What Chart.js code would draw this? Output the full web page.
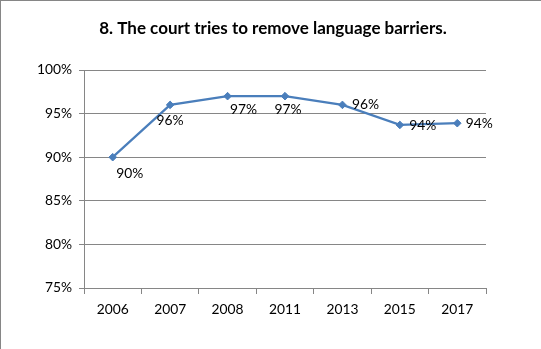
<!DOCTYPE html>
<html>
<head>
<meta charset="utf-8">
<script src="https://cdn.jsdelivr.net/npm/chart.js@4"></script>
<style>
  html, body { margin: 0; padding: 0; background: #fff; }
  #wrap { position: relative; width: 541px; height: 349px; box-sizing: border-box; border-left: 1px solid #868686; border-top: 1px solid #868686; }
  canvas { display: block; }
</style>
</head>
<body>
<div id="wrap"><canvas id="chart" width="540" height="348"></canvas></div>
<script>
const TITLE = "8. The court tries to remove language barriers.";
const YEARS = ["2006", "2007", "2008", "2011", "2013", "2015", "2017"];
const VALUES = [90, 96, 97, 97, 96, 93.7, 93.9];
const Y_MIN = 75;
const Y_MAX = 100;
const Y_STEP = 5;

const FONT = "Lato, 'Noto Sans', sans-serif";
const GRID = "#868686";
const LINE = "#4A7EBB";

// label nudges (px) relative to each point, as placed in the original
const labelNudge = [[17, 16], [0, 16], [16, 13], [3, 13], [23, 0], [23, 1], [22, 0]];

const titlePlugin = {
  id: "titleText",
  afterDraw(chart) {
    const ctx = chart.ctx;
    ctx.save();
    ctx.font = "bold 17px " + FONT;
    ctx.fillStyle = "#000";
    ctx.textAlign = "center";
    ctx.textBaseline = "middle";
    ctx.fillText(TITLE, 272, 28);
    ctx.restore();
  },
};

const valueLabels = {
  id: "valueLabels",
  afterDatasetsDraw(chart) {
    const ctx = chart.ctx;
    const meta = chart.getDatasetMeta(0);
    ctx.save();
    ctx.font = "13.8px " + FONT;
    ctx.fillStyle = "#000";
    ctx.textAlign = "center";
    ctx.textBaseline = "middle";
    meta.data.forEach((pt, i) => {
      const [dx, dy] = labelNudge[i] || [0, 0];
      ctx.fillText(Math.round(VALUES[i]) + "%", pt.x + dx, pt.y + dy);
    });
    ctx.restore();
  },
};

new Chart(document.getElementById("chart"), {
  type: "line",
  data: {
    labels: YEARS,
    datasets: [{
      data: VALUES,
      borderColor: LINE,
      backgroundColor: LINE,
      borderWidth: 2.25,
      pointStyle: "rectRot",
      pointRadius: 3.8,
      pointBackgroundColor: LINE,
      pointBorderColor: LINE,
      pointBorderWidth: 1,
      tension: 0,
    }],
  },
  options: {
    responsive: false,
    animation: false,
    devicePixelRatio: 1,
    layout: { padding: { left: 0, right: 55, top: 69, bottom: 0 } },
    plugins: { legend: { display: false }, title: { display: false }, tooltip: { enabled: false } },
    scales: {
      x: {
        offset: true,
        afterFit: (s) => { s.height = 61; },
        grid: { offset: true, drawOnChartArea: false, drawTicks: true, tickLength: 6, color: GRID, lineWidth: 1 },
        border: { color: GRID, width: 1 },
        ticks: { color: "#000", font: { family: FONT, size: 13.8 }, padding: 7, maxRotation: 0 },
      },
      y: {
        min: Y_MIN,
        max: Y_MAX,
        afterFit: (s) => { s.width = 83; },
        grid: { color: GRID, lineWidth: 1, tickLength: 5 },
        border: { color: GRID, width: 1 },
        ticks: { stepSize: Y_STEP, color: "#000", font: { family: FONT, size: 13.8 }, padding: 7, callback: (v) => v + "%" },
      },
    },
  },
  plugins: [titlePlugin, valueLabels],
});
</script>
</body>
</html>
